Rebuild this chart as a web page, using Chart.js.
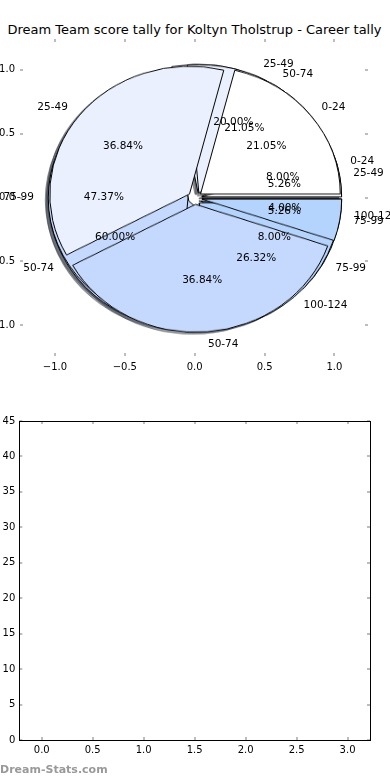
<!DOCTYPE html>
<html>
<head>
    <title>Dream Team score tally</title>
    <script src="https://cdn.jsdelivr.net/npm/chart.js"></script>
    <style>
        html, body { margin: 0; padding: 0; background: #fff; }
        body {
            width: 390px;
            height: 780px;
            position: relative;
            overflow: hidden;
            font-family: 'DejaVu Sans', sans-serif;
        }
        canvas { position: absolute; }
        #title {
            position: absolute;
            left: 0;
            width: 389px;
            top: 21px;
            line-height: 18px;
            font-size: 13px;
            text-align: center;
            white-space: nowrap;
            color: #000;
        }
        #stamp {
            position: absolute;
            left: 0;
            top: 763px;
            font-size: 11px;
            font-weight: bold;
            color: #999;
        }
    </style>
</head>
<body>
    <div id="title">Dream Team score tally for Koltyn Tholstrup - Career tally</div>
    <canvas id="pieAxes" width="410" height="390" style="left:-20px; top:0; z-index:10"></canvas>
    <canvas id="tally" width="390" height="380" style="left:0; top:390px"></canvas>
    <div id="stamp">Dream-Stats.com</div>
    <script>
        // three tallies drawn on top of each other (bottom first)
        const binsC = ['0-24', '25-49', '50-74', '75-99', '100-124'];
        const countsC = [2, 5, 15, 2, 1];
        const binsB = ['25-49', '50-74', '75-99', '100-124'];
        const countsB = [1, 4, 9, 5];
        const binsA = ['0-24', '25-49', '50-74', '75-99'];
        const countsA = [4, 7, 7, 1];

        const pieTicks = [-1, -0.5, 0, 0.5, 1];
        const tallyXTicks = [0, 0.5, 1, 1.5, 2, 2.5, 3];
        const tallyYTicks = [0, 5, 10, 15, 20, 25, 30, 35, 40, 45];

        const sliceColors = ['#ffffff', '#eaf0fd', '#c5d8fd', '#b4d4fd', '#a5c6f5'];
        const explode = 0.05;      // same as matplotlib explode
        const shadowShift = 0.02;  // matplotlib shadow offset

        const pies = [
            { bins: binsC, counts: countsC },
            { bins: binsB, counts: countsB },
            { bins: binsA, counts: countsA }
        ];

        Chart.defaults.font.family = "'DejaVu Sans', sans-serif";
        Chart.defaults.color = '#000';

        function shade(hex) {
            const n = parseInt(hex.slice(1), 16);
            const r = Math.round(((n >> 16) & 255) * 0.3);
            const g = Math.round(((n >> 8) & 255) * 0.3);
            const b = Math.round((n & 255) * 0.3);
            return `rgba(${r},${g},${b},0.5)`;
        }

        // small inward ticks on every side, optional frame
        const tickMarks = {
            id: 'tickMarks',
            afterDraw(chart, args, opts) {
                const { ctx, chartArea: a, scales: { x, y } } = chart;
                ctx.save();
                ctx.fillStyle = opts.color;
                x.ticks.forEach(t => {
                    const px = Math.round(x.getPixelForValue(t.value));
                    ctx.fillRect(px - 1, a.top, 2, opts.len);
                    ctx.fillRect(px - 1, a.bottom - opts.len, 2, opts.len);
                });
                y.ticks.forEach(t => {
                    const py = Math.round(y.getPixelForValue(t.value));
                    ctx.fillRect(a.left, py - 1, opts.len, 2);
                    ctx.fillRect(a.right - opts.len, py - 1, opts.len, 2);
                });
                if (opts.frame) {
                    ctx.strokeStyle = '#000';
                    ctx.lineWidth = 1;
                    ctx.strokeRect(Math.round(a.left) + 0.5, Math.round(a.top) + 0.5,
                        Math.round(a.right - a.left), Math.round(a.bottom - a.top));
                }
                ctx.restore();
            }
        };

        // wedge labels and percentages, placed like matplotlib's pie()
        const pieLabels = {
            id: 'pieLabels',
            afterDraw(chart) {
                const { ctx, scales: { x, y } } = chart;
                ctx.save();
                ctx.font = "10.5px 'DejaVu Sans'";
                ctx.fillStyle = '#000';
                ctx.textBaseline = 'middle';
                pies.forEach(p => {
                    const total = p.counts.reduce((s, v) => s + v, 0);
                    let start = 0;
                    p.counts.forEach((v, i) => {
                        const sweep = v / total * 360;
                        const mid = (start + sweep / 2) * Math.PI / 180;
                        start += sweep;
                        const ox = explode * Math.cos(mid), oy = explode * Math.sin(mid);
                        const lx = ox + 1.1 * Math.cos(mid), ly = oy + 1.1 * Math.sin(mid);
                        ctx.textAlign = lx > 0 ? 'left' : 'right';
                        ctx.fillText(p.bins[i], x.getPixelForValue(lx), y.getPixelForValue(ly));
                        ctx.textAlign = 'center';
                        ctx.fillText((v / total * 100).toFixed(2) + '%',
                            x.getPixelForValue(ox + 0.6 * Math.cos(mid)),
                            y.getPixelForValue(oy + 0.6 * Math.sin(mid)));
                    });
                });
                ctx.restore();
            }
        };

        // push every wedge out along its middle angle
        const explodeWedges = {
            id: 'explode',
            beforeDatasetDraw(chart, args, opts) {
                const ctx = chart.ctx;
                args.meta.data.forEach(arc => {
                    const mid = (arc.startAngle + arc.endAngle) / 2;
                    ctx.save();
                    ctx.translate(Math.cos(mid) * opts.dist, Math.sin(mid) * opts.dist);
                    arc.draw(ctx);
                    ctx.restore();
                });
                return false;
            }
        };

        function axisOpts(min, max, ticks, fmt, fit) {
            return {
                type: 'linear',
                min: min,
                max: max,
                grid: { display: false, drawTicks: false },
                border: { display: false },
                afterBuildTicks: s => { s.ticks = ticks.map(v => ({ value: v })); },
                afterFit: fit,
                ticks: { color: '#000', font: { size: 10 }, callback: fmt }
            };
        }

        const fmtPie = v => v.toFixed(1).replace('-', '\u2212');

        const axesCanvas = document.getElementById('pieAxes');
        const pieX = axisOpts(-1.25, 1.24, pieTicks, fmtPie, s => { s.height = 34; });
        pieX.ticks.padding = 5;
        const pieY = axisOpts(-1.24, 1.24, pieTicks, fmtPie, s => { s.width = 40; });
        pieY.ticks.padding = 5;

        const axesChart = new Chart(axesCanvas, {
            type: 'scatter',
            data: { datasets: [{ data: [] }] },
            options: {
                responsive: false,
                animation: false,
                events: [],
                layout: { padding: { top: 39, right: 22, left: 0, bottom: 0 } },
                scales: { x: pieX, y: pieY },
                plugins: {
                    legend: { display: false },
                    tooltip: { enabled: false },
                    tickMarks: { color: '#bdbdbd', len: 3, frame: false }
                }
            },
            plugins: [tickMarks, pieLabels]
        });

        // pies sit under the axes canvas, centred on data (0, 0)
        const xs = axesChart.scales.x, ys = axesChart.scales.y;
        const R = xs.getPixelForValue(1) - xs.getPixelForValue(0);
        const ky = (ys.getPixelForValue(0) - ys.getPixelForValue(1)) / R;
        const cx = axesCanvas.offsetLeft + xs.getPixelForValue(0);
        const cy = axesCanvas.offsetTop + ys.getPixelForValue(0);
        const size = Math.ceil(2 * R * (1 + explode) + 12);

        function makePie(p, z, shadow) {
            const cv = document.createElement('canvas');
            cv.width = size;
            cv.height = size;
            const dx = shadow ? -shadowShift * R : 0;
            const dy = shadow ? shadowShift * R * ky : 0;
            cv.style.left = (cx - size / 2 + dx) + 'px';
            cv.style.top = (cy - size / 2 + dy) + 'px';
            cv.style.transform = `scaleY(${ky})`;
            cv.style.zIndex = z;
            document.body.appendChild(cv);

            const colors = p.counts.map((v, i) => shadow ? shade(sliceColors[i]) : sliceColors[i]).reverse();
            new Chart(cv, {
                type: 'pie',
                data: {
                    labels: p.bins.slice().reverse(),
                    datasets: [{
                        data: p.counts.slice().reverse(),
                        backgroundColor: colors,
                        borderColor: shadow ? colors : '#000',
                        borderWidth: 1
                    }]
                },
                options: {
                    responsive: false,
                    animation: false,
                    events: [],
                    rotation: 90,
                    radius: R,
                    layout: { padding: 0 },
                    plugins: {
                        legend: { display: false },
                        tooltip: { enabled: false },
                        explode: { dist: explode * R }
                    }
                },
                plugins: [explodeWedges]
            });
        }

        pies.forEach(p => makePie(p, 1, true));
        pies.forEach((p, i) => makePie(p, 2 + i, false));

        // empty lower panel
        const tallyX = axisOpts(-0.22, 3.22, tallyXTicks, v => v.toFixed(1), s => { s.height = 30; });
        tallyX.ticks.padding = 4;
        const tallyY = axisOpts(0, 45, tallyYTicks, v => String(v), s => { s.width = 19.3; });
        tallyY.ticks.padding = 4;

        new Chart(document.getElementById('tally'), {
            type: 'scatter',
            data: { datasets: [{ data: [] }] },
            options: {
                responsive: false,
                animation: false,
                events: [],
                layout: { padding: { top: 31, right: 20, left: 0, bottom: 0 } },
                scales: { x: tallyX, y: tallyY },
                plugins: {
                    legend: { display: false },
                    tooltip: { enabled: false },
                    tickMarks: { color: '#bdbdbd', len: 3, frame: true }
                }
            },
            plugins: [tickMarks]
        });
    </script>
</body>
</html>
